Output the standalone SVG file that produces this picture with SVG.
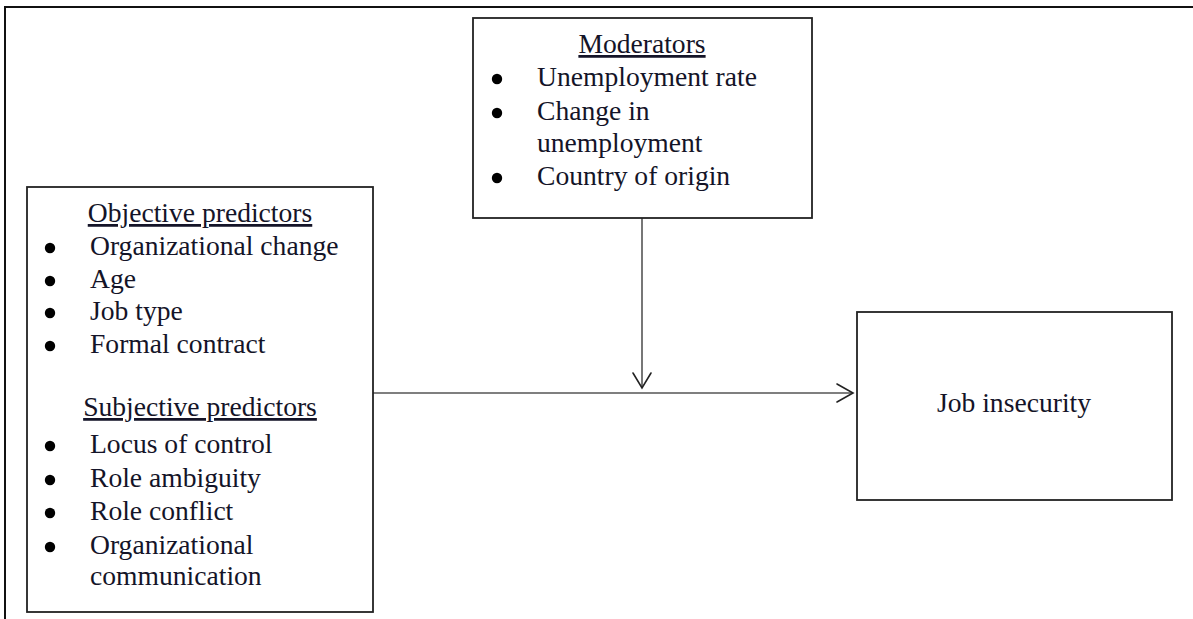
<svg xmlns="http://www.w3.org/2000/svg" width="1193" height="619" viewBox="0 0 1193 619">
  <defs>
    <style>
      .frame { fill: none; stroke: #111; stroke-width: 2; }
      .box { fill: #fff; stroke: #222; stroke-width: 1.8; }
      .edge { fill: none; stroke: #555; stroke-width: 1.6; }
      .head { fill: none; stroke: #222; stroke-width: 1.6; stroke-linejoin: miter; stroke-linecap: round; }
      .t { font-family: "Liberation Serif", "Times New Roman", serif; font-size: 27.6px; fill: #141428; }
      .title { text-anchor: middle; text-decoration: underline; }
      .c { text-anchor: middle; }
      .dot { fill: #000; }
    </style>
  </defs>

  <rect width="1193" height="619" fill="#fff"/>

  <!-- outer frame: top and left edges -->
  <path class="frame" d="M5 619 V7 H1193"/>

  <!-- connectors -->
  <g id="connectors">
    <line class="edge" x1="373" y1="393" x2="852" y2="393"/>
    <path class="head" d="M837 384 L853 393 L837 402"/>
    <line class="edge" x1="642" y1="218" x2="642" y2="387"/>
    <path class="head" d="M633 373 L642 388 L651 373"/>
  </g>

  <!-- moderators -->
  <g id="moderators">
    <rect class="box" x="473" y="18" width="339" height="200"/>
    <text class="t title" x="642" y="53">Moderators</text>
    <circle class="dot" cx="497" cy="79" r="5.2"/>
    <text class="t" x="537" y="86">Unemployment rate</text>
    <circle class="dot" cx="497" cy="113" r="5.2"/>
    <text class="t" x="537" y="120">Change in</text>
    <text class="t" x="537" y="152">unemployment</text>
    <circle class="dot" cx="497" cy="178" r="5.2"/>
    <text class="t" x="537" y="185">Country of origin</text>
  </g>

  <!-- predictors -->
  <g id="predictors">
    <rect class="box" x="27" y="187" width="346" height="425"/>
    <text class="t title" x="200" y="222">Objective predictors</text>
    <circle class="dot" cx="50" cy="248" r="5.2"/>
    <text class="t" x="90" y="255">Organizational change</text>
    <circle class="dot" cx="50" cy="281" r="5.2"/>
    <text class="t" x="90" y="288">Age</text>
    <circle class="dot" cx="50" cy="313" r="5.2"/>
    <text class="t" x="90" y="320">Job type</text>
    <circle class="dot" cx="50" cy="346" r="5.2"/>
    <text class="t" x="90" y="353">Formal contract</text>

    <text class="t title" x="200" y="416">Subjective predictors</text>
    <circle class="dot" cx="50" cy="446" r="5.2"/>
    <text class="t" x="90" y="453">Locus of control</text>
    <circle class="dot" cx="50" cy="480" r="5.2"/>
    <text class="t" x="90" y="487">Role ambiguity</text>
    <circle class="dot" cx="50" cy="513" r="5.2"/>
    <text class="t" x="90" y="520">Role conflict</text>
    <circle class="dot" cx="50" cy="547" r="5.2"/>
    <text class="t" x="90" y="554">Organizational</text>
    <text class="t" x="90" y="585">communication</text>
  </g>

  <!-- outcome -->
  <g id="job-insecurity">
    <rect class="box" x="857" y="312" width="315" height="188"/>
    <text class="t c" x="1014" y="412">Job insecurity</text>
  </g>
</svg>
